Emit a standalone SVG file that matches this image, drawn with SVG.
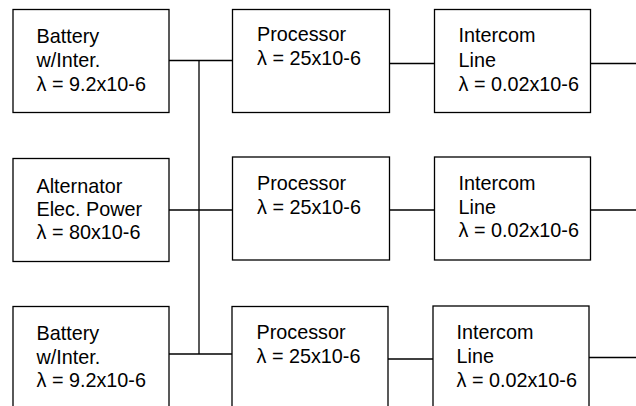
<svg xmlns="http://www.w3.org/2000/svg" width="636" height="406" viewBox="0 0 636 406">
<style>
.box{fill:#fff;stroke:#000;stroke-width:1.3}
.ln{fill:none;stroke:#000;stroke-width:1.3}
text{font-family:"Liberation Sans",Arial,sans-serif;font-size:19.8px;fill:#000}
</style>
<rect width="636" height="406" fill="#fff"/>
<g id="connectors">
<path class="ln" d="M169 60.5H232"/>
<path class="ln" d="M199 60.5V354"/>
<path class="ln" d="M169 210H232"/>
<path class="ln" d="M169 354H232"/>
<path class="ln" d="M389 63.5H434"/>
<path class="ln" d="M591 63.5H636"/>
<path class="ln" d="M389 210H434"/>
<path class="ln" d="M591 210H636"/>
<path class="ln" d="M388 359H433"/>
<path class="ln" d="M589 357.5H636"/>
</g>
<g id="battery1">
<rect class="box" x="13" y="9.5" width="156" height="103"/>
<text x="36.5" y="43">Battery</text>
<text x="36.5" y="67">w/Inter.</text>
<text x="36.5" y="91">λ = 9.2x10-6</text>
</g>
<g id="processor1">
<rect class="box" x="232.5" y="9.5" width="157" height="103"/>
<text x="257" y="40.5">Processor</text>
<text x="257" y="65">λ = 25x10-6</text>
</g>
<g id="intercom1">
<rect class="box" x="434.5" y="9.5" width="156" height="103"/>
<text x="458.5" y="42">Intercom</text>
<text x="458.5" y="67">Line</text>
<text x="458.5" y="90.5">λ = 0.02x10-6</text>
</g>
<g id="alternator">
<rect class="box" x="13" y="158.5" width="156" height="103"/>
<text x="36.5" y="192.5">Alternator</text>
<text x="36.5" y="216">Elec. Power</text>
<text x="36.5" y="239">λ = 80x10-6</text>
</g>
<g id="processor2">
<rect class="box" x="232.5" y="157" width="157" height="103"/>
<text x="257" y="190">Processor</text>
<text x="257" y="214">λ = 25x10-6</text>
</g>
<g id="intercom2">
<rect class="box" x="434.5" y="157" width="156" height="103"/>
<text x="458.5" y="190">Intercom</text>
<text x="458.5" y="214">Line</text>
<text x="458.5" y="237">λ = 0.02x10-6</text>
</g>
<g id="battery2">
<rect class="box" x="13" y="306.5" width="156" height="120"/>
<text x="36.5" y="339.5">Battery</text>
<text x="36.5" y="363.5">w/Inter.</text>
<text x="36.5" y="387">λ = 9.2x10-6</text>
</g>
<g id="processor3">
<rect class="box" x="232" y="306.5" width="156" height="120"/>
<text x="256.5" y="338.5">Processor</text>
<text x="256.5" y="362.5">λ = 25x10-6</text>
</g>
<g id="intercom3">
<rect class="box" x="433" y="306" width="156" height="120"/>
<text x="456.5" y="338.5">Intercom</text>
<text x="456.5" y="363">Line</text>
<text x="456.5" y="387">λ = 0.02x10-6</text>
</g>
</svg>
